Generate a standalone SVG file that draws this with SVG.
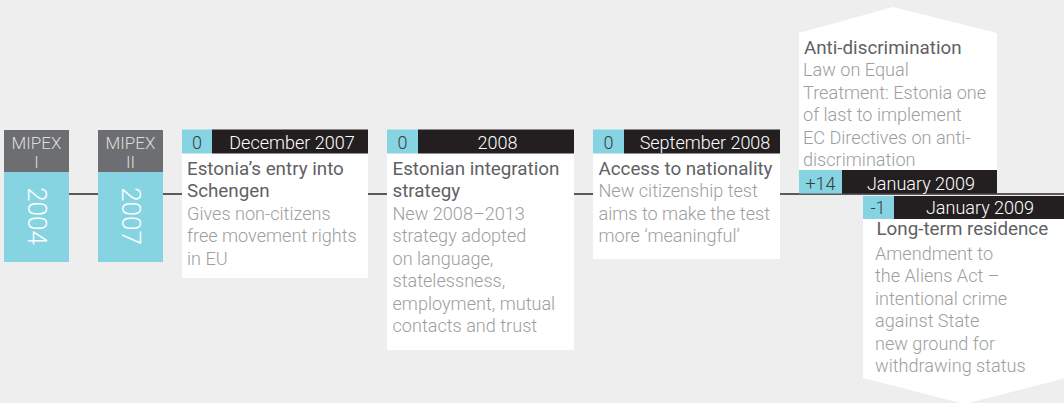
<svg xmlns="http://www.w3.org/2000/svg" width="1064" height="403" viewBox="0 0 1064 403">
<style>
text{font-family:Roboto,"Liberation Sans",Arial,sans-serif;font-weight:300}
.mip{font-size:17px;fill:#dcdddf;text-anchor:middle}
.yr{font-size:26px;fill:#ffffff;text-anchor:middle}
.hn{font-size:18px;fill:#3b3b3d;text-anchor:middle}
.hd{font-size:18px;fill:#ffffff;text-anchor:middle}
.tt{font-size:18.8px;fill:#606163;font-weight:400}
.bd{font-size:18.1px;fill:#9c9ea1}
.gray{fill:#6d6e71}
.cyan{fill:#86d4e1}
.blk{fill:#231f20}
.card{fill:#ffffff}
</style>
<rect width="1064" height="403" fill="#eeeeee"/>
<g id="connectors">
<line x1="4" y1="194" x2="1064" y2="194" stroke="#5a5a5c" stroke-width="2"/>
</g>
<g id="mipex1">
<rect class="gray" x="4" y="130" width="65" height="42"/>
<rect class="cyan" x="4" y="172" width="65" height="90"/>
<text class="mip" x="36.5" y="149">MIPEX</text>
<text class="mip" x="36.5" y="168">I</text>
<text class="yr" transform="translate(36.5,216) rotate(90)" y="9">2004</text>
</g>
<g id="mipex2">
<rect class="gray" x="98" y="130" width="65" height="42"/>
<rect class="cyan" x="98" y="172" width="65" height="90"/>
<text class="mip" x="130.5" y="149">MIPEX</text>
<text class="mip" x="130.5" y="168">II</text>
<text class="yr" transform="translate(130.5,216) rotate(90)" y="9">2007</text>
</g>
<g id="schengen">
<rect class="card" x="182" y="153" width="186" height="125"/>
<rect class="cyan" x="182" y="129.5" width="30" height="24"/>
<rect class="blk" x="212" y="129.5" width="156" height="24"/>
<text class="hn" x="197" y="149">0</text>
<text class="hd" x="292" y="149">December 2007</text>
<text class="tt" x="187" y="174.5">Estonia’s entry into</text>
<text class="tt" x="187" y="197">Schengen</text>
<text class="bd" x="187" y="219.5">Gives non-citizens</text>
<text class="bd" x="187" y="242">free movement rights</text>
<text class="bd" x="187" y="264.5">in EU</text>
</g>
<g id="integration">
<rect class="card" x="387" y="153" width="187" height="197"/>
<rect class="cyan" x="387" y="129.5" width="31" height="24"/>
<rect class="blk" x="418" y="129.5" width="156" height="24"/>
<text class="hn" x="402.5" y="149">0</text>
<text class="hd" x="497.5" y="149">2008</text>
<text class="tt" x="392.5" y="174.5">Estonian integration</text>
<text class="tt" x="392.5" y="197">strategy</text>
<text class="bd" x="392.5" y="219.5">New 2008–2013</text>
<text class="bd" x="392.5" y="242">strategy adopted</text>
<text class="bd" x="392.5" y="264.5">on language,</text>
<text class="bd" x="392.5" y="287">statelessness,</text>
<text class="bd" x="392.5" y="309.5">employment, mutual</text>
<text class="bd" x="392.5" y="332">contacts and trust</text>
</g>
<g id="nationality">
<rect class="card" x="593" y="153" width="187" height="106"/>
<rect class="cyan" x="593" y="129.5" width="31" height="24"/>
<rect class="blk" x="624" y="129.5" width="156" height="24"/>
<text class="hn" x="608.5" y="149">0</text>
<text class="hd" x="705" y="149">September 2008</text>
<text class="tt" x="598.5" y="174.5">Access to nationality</text>
<text class="bd" x="598.5" y="197">New citizenship test</text>
<text class="bd" x="598.5" y="219.5">aims to make the test</text>
<text class="bd" x="598.5" y="242">more ‘meaningful’</text>
</g>
<g id="antidiscrimination">
<polygon class="card" points="799,170 799,33 893,7 997,33 997,170"/>
<rect class="cyan" x="799" y="170" width="43" height="23.5"/>
<rect class="blk" x="842" y="170" width="155" height="23.5"/>
<text class="hn" x="820.5" y="190">+14</text>
<text class="hd" x="921" y="190">January 2009</text>
<text class="tt" x="804" y="53.5">Anti-discrimination</text>
<text class="bd" x="803" y="76">Law on Equal</text>
<text class="bd" x="803" y="98.5">Treatment: Estonia one</text>
<text class="bd" x="803" y="121">of last to implement</text>
<text class="bd" x="803" y="143.5">EC Directives on anti-</text>
<text class="bd" x="803" y="166">discrimination</text>
</g>
<g id="residence">
<polygon class="card" points="863,219 863,378 964.5,404 1066,378 1066,219"/>
<rect class="cyan" x="863" y="196" width="31" height="23"/>
<rect class="blk" x="894" y="196" width="172" height="23"/>
<text class="hn" x="878" y="214">-1</text>
<text class="hd" x="980" y="214">January 2009</text>
<text class="tt" x="876.5" y="235">Long-term residence</text>
<text class="bd" x="875" y="259.5">Amendment to</text>
<text class="bd" x="875" y="282">the Aliens Act –</text>
<text class="bd" x="875" y="304.5">intentional crime</text>
<text class="bd" x="875" y="327">against State</text>
<text class="bd" x="875" y="349.5">new ground for</text>
<text class="bd" x="875" y="372">withdrawing status</text>
</g>
</svg>
